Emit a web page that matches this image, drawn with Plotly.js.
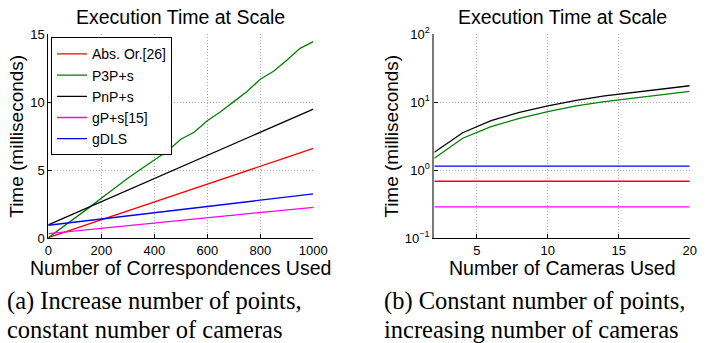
<!DOCTYPE html>
<html>
<head>
<meta charset="utf-8">
<script src="https://cdn.plot.ly/plotly-3.0.1.min.js"></script>
<style>html,body{margin:0;padding:0;background:#fff;}#chart{width:724px;height:343px;}</style>
</head>
<body>
<div id="chart"></div>
<script>
// ---- Data: (a) time vs number of correspondences ----
const pointsX = [0, 100, 200, 300, 400, 500, 600, 700, 800, 900, 1000];
const absOrA  = [0.05, 0.70, 1.35, 2.00, 2.65, 3.30, 3.97, 4.63, 5.30, 5.95, 6.62];
const pnpA    = [0.98, 1.83, 2.68, 3.53, 4.38, 5.24, 6.09, 6.94, 7.79, 8.64, 9.50];
const gdlsA   = [0.96, 1.19, 1.42, 1.65, 1.88, 2.11, 2.34, 2.57, 2.80, 3.03, 3.26];
const gpsA    = [0.35, 0.54, 0.74, 0.93, 1.12, 1.32, 1.51, 1.70, 1.89, 2.09, 2.28];
const p3pX    = [0, 50, 100, 150, 200, 250, 300, 350, 400, 450, 500, 550, 600, 650, 700, 750, 800, 850, 900, 950, 1000];
const p3pA    = [0.05, 0.75, 1.47, 2.20, 2.94, 3.70, 4.41, 5.10, 5.76, 6.42, 7.28, 7.80, 8.65, 9.30, 10.05, 10.80, 11.70, 12.28, 13.10, 13.97, 14.46];

// ---- Data: (b) time vs number of cameras ----
const camerasX = [2, 4, 6, 8, 10, 12, 14, 16, 18, 20];
const pnpB     = [1.84, 3.57, 5.36, 7.13, 8.83, 10.7, 12.4, 13.8, 15.5, 17.5];
const p3pB     = [1.50, 2.96, 4.38, 5.82, 7.28, 8.83, 10.2, 11.5, 12.9, 14.5];
const gdlsB    = [1.15, 1.15, 1.15, 1.15, 1.15, 1.15, 1.15, 1.15, 1.15, 1.15];
const absOrB   = [0.69, 0.69, 0.69, 0.69, 0.69, 0.69, 0.69, 0.69, 0.69, 0.69];
const gpsB     = [0.29, 0.29, 0.29, 0.29, 0.29, 0.29, 0.29, 0.29, 0.29, 0.29];

const names = ['Abs. Or.[26]', 'P3P+s', 'PnP+s', 'gP+s[15]', 'gDLS'];
const colors = ['#ff0000', '#008000', '#000000', '#ff00ff', '#0000ff'];
const logTickVals = [0.1, 1, 10, 100];
const logTickText = ['10<sup>\u22121</sup>', '10<sup>0</sup>', '10<sup>1</sup>', '10<sup>2</sup>'];
const captionA = ['(a) Increase number of points,', 'constant number of cameras'];
const captionB = ['(b) Constant number of points,', 'increasing number of cameras'];
const plotTitle = 'Execution Time at Scale';
const xTitleA = 'Number of Correspondences Used';
const xTitleB = 'Number of Cameras Used';
const yTitle = 'Time (milliseconds)';

const W = 724, H = 343;
const sans = 'Liberation Sans, Arial, sans-serif';
const serif = 'Liberation Serif, Times New Roman, serif';

function line(x, y, i, xa, ya, show) {
  return {x: x, y: y, type: 'scatter', mode: 'lines', name: names[i],
          xaxis: xa, yaxis: ya, showlegend: show,
          line: {color: colors[i], width: 1.3}};
}

const traces = [
  line(pointsX, absOrA, 0, 'x', 'y', true),
  line(p3pX, p3pA, 1, 'x', 'y', true),
  line(pointsX, pnpA, 2, 'x', 'y', true),
  line(pointsX, gpsA, 3, 'x', 'y', true),
  line(pointsX, gdlsA, 4, 'x', 'y', true),
  line(camerasX, absOrB, 0, 'x2', 'y2', false),
  line(camerasX, p3pB, 1, 'x2', 'y2', false),
  line(camerasX, pnpB, 2, 'x2', 'y2', false),
  line(camerasX, gpsB, 3, 'x2', 'y2', false),
  line(camerasX, gdlsB, 4, 'x2', 'y2', false)
];

const yDom = [1 - 238.3 / H, 1 - 34.3 / H];
const common = {
  showline: true, linecolor: '#000', linewidth: 1,
  ticks: 'inside', ticklen: 4, tickcolor: '#000',
  showgrid: true, gridcolor: '#a8a8a8', griddash: '1px,2px', gridwidth: 1,
  zeroline: false, tickfont: {family: sans, size: 13, color: '#000'},
  automargin: false
};
const xTitleFont = {family: sans, size: 19.5, color: '#000'};
const yTitleFont = {family: sans, size: 19, color: '#000'};

function note(text, xref, x, yPx, xanchor, font) {
  return {text: text, xref: xref, yref: 'paper', x: x, y: 1 - yPx / H,
          xanchor: xanchor, yanchor: 'middle', showarrow: false, font: font};
}
const captionFont = {family: serif, size: 24.5, color: '#000'};
const titleFont = {family: sans, size: 19.5, color: '#000'};

const layout = {
  width: W, height: H,
  margin: {l: 0, r: 0, t: 0, b: 0},
  paper_bgcolor: '#fff', plot_bgcolor: '#fff',
  font: {family: sans, color: '#000'},
  xaxis: Object.assign({}, common, {
    domain: [48.3 / W, 313.3 / W], range: [0, 1000], anchor: 'y',
    tickvals: [0, 200, 400, 600, 800, 1000]
  }),
  yaxis: Object.assign({}, common, {
    domain: yDom, range: [0, 15], anchor: 'x',
    tickvals: [0, 5, 10, 15],
    title: {text: yTitle, font: yTitleFont, standoff: 1}
  }),
  xaxis2: Object.assign({}, common, {
    domain: [434.3 / W, 689.7 / W], range: [2, 20], anchor: 'y2',
    tickvals: [5, 10, 15, 20]
  }),
  yaxis2: Object.assign({}, common, {
    domain: yDom, type: 'log', range: [-1, 2], anchor: 'x2',
    linecolor: '#7a7a7a', linewidth: 2,
    tickvals: logTickVals, ticktext: logTickText,
    title: {text: yTitle, font: yTitleFont, standoff: 1}
  }),
  legend: {
    x: 51 / W, y: 1 - 37.3 / H, xanchor: 'left', yanchor: 'top',
    bgcolor: '#fff', bordercolor: '#000', borderwidth: 1,
    font: {family: sans, size: 14, color: '#000'},
    itemwidth: 30, tracegroupgap: 0
  },
  annotations: [
    note(plotTitle, 'x domain', 0.5, 17, 'center', titleFont),
    note(plotTitle, 'x2 domain', 0.5, 17, 'center', titleFont),
    note(xTitleA, 'x domain', 0.5, 268, 'center', xTitleFont),
    note(xTitleB, 'x2 domain', 0.5, 268, 'center', xTitleFont),
    note(captionA[0], 'paper', 5 / W, 301, 'left', captionFont),
    note(captionA[1], 'paper', 5 / W, 329, 'left', captionFont),
    note(captionB[0], 'paper', 382 / W, 301, 'left', captionFont),
    note(captionB[1], 'paper', 382 / W, 329, 'left', captionFont)
  ]
};

Plotly.newPlot('chart', traces, layout, {staticPlot: true, displayModeBar: false});
</script>
</body>
</html>
